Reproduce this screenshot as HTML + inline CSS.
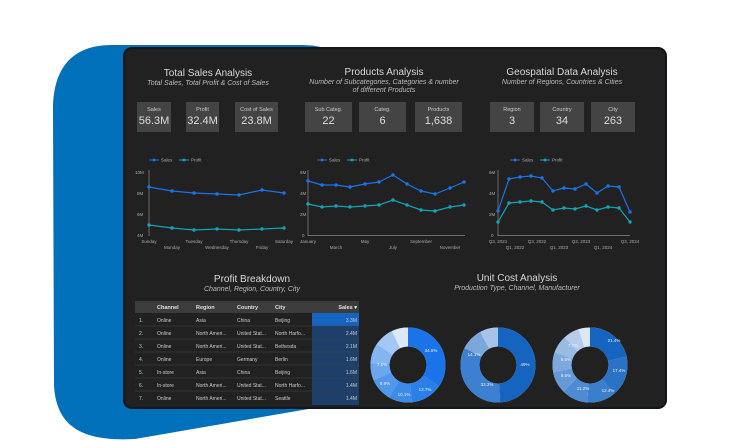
<!DOCTYPE html>
<html><head><meta charset="utf-8"><style>
html,body{margin:0;padding:0;background:#fff;width:750px;height:441px;overflow:hidden}
svg{display:block;font-family:"Liberation Sans",sans-serif}
</style></head><body>
<svg width="750" height="441" viewBox="0 0 750 441" xmlns="http://www.w3.org/2000/svg">
<path d="M112,45 L300,45 C315,45 322,47 330,50 L330,407 L320,407 L135,439 C80,442 56,425 54,385 L53,110 C53,68 72,45 112,45 Z" fill="#0070ba"/>
<rect x="124" y="48" width="542" height="360" rx="8" fill="#212121" stroke="#11151c" stroke-width="2"/>
<g fill="#d8d8d8" text-anchor="middle">
<text x="208" y="76" font-size="10">Total Sales Analysis</text>
<text x="208" y="85" font-size="7" font-style="italic" fill="#bbb">Total Sales, Total Profit &amp; Cost of Sales</text>
<text x="384" y="75" font-size="10">Products Analysis</text>
<text x="384" y="84" font-size="7" font-style="italic" fill="#bbb">Number of Subcategories, Categories &amp; number</text>
<text x="384" y="92" font-size="7" font-style="italic" fill="#bbb">of different Products</text>
<text x="562" y="75" font-size="10">Geospatial Data Analysis</text>
<text x="562" y="84" font-size="7" font-style="italic" fill="#bbb">Number of Regions, Countries &amp; Cities</text>
</g>
<g fill="#444">
<rect x="137" y="102" width="34" height="30"/><rect x="186" y="102" width="33" height="30"/><rect x="235" y="102" width="43" height="30"/>
<rect x="305" y="102" width="47" height="30"/><rect x="359" y="102" width="47" height="30"/><rect x="415" y="102" width="47" height="30"/>
<rect x="490" y="102" width="44" height="30"/><rect x="540" y="102" width="44" height="30"/><rect x="591" y="102" width="44" height="30"/>
</g>
<g text-anchor="middle" fill="#ddd">
<g font-size="5.5" fill="#ccc">
<text x="154" y="111">Sales</text><text x="202.5" y="111">Profit</text><text x="256.5" y="111">Cost of Sales</text>
<text x="328.5" y="111">Sub Categ.</text><text x="382.5" y="111">Categ.</text><text x="438.5" y="111">Products</text>
<text x="512" y="111">Region</text><text x="562" y="111">Country</text><text x="613" y="111">City</text>
</g>
<g font-size="11">
<text x="154" y="124">56.3M</text><text x="202.5" y="124">32.4M</text><text x="256.5" y="124">23.8M</text>
<text x="328.5" y="124">22</text><text x="382.5" y="124">6</text><text x="438.5" y="124">1,638</text>
<text x="512" y="124">3</text><text x="562" y="124">34</text><text x="613" y="124">263</text>
</g></g>
<g font-size="4.5" fill="#aaa">
<g transform="translate(0,0)"><line x1="149" y1="160" x2="159" y2="160" stroke="#1a73e8"/><circle cx="154" cy="160" r="1.5" fill="#1a73e8"/><text x="161" y="161.5">Sales</text><line x1="179" y1="160" x2="189" y2="160" stroke="#12a4b4"/><circle cx="184" cy="160" r="1.5" fill="#12a4b4"/><text x="191" y="161.5">Profit</text></g>
<g transform="translate(168,0)"><line x1="149" y1="160" x2="159" y2="160" stroke="#1a73e8"/><circle cx="154" cy="160" r="1.5" fill="#1a73e8"/><text x="161" y="161.5">Sales</text><line x1="179" y1="160" x2="189" y2="160" stroke="#12a4b4"/><circle cx="184" cy="160" r="1.5" fill="#12a4b4"/><text x="191" y="161.5">Profit</text></g>
<g transform="translate(361,0)"><line x1="149" y1="160" x2="159" y2="160" stroke="#1a73e8"/><circle cx="154" cy="160" r="1.5" fill="#1a73e8"/><text x="161" y="161.5">Sales</text><line x1="179" y1="160" x2="189" y2="160" stroke="#12a4b4"/><circle cx="184" cy="160" r="1.5" fill="#12a4b4"/><text x="191" y="161.5">Profit</text></g>
</g>
<g stroke="#888" stroke-width="0.7"><line x1="149" y1="170" x2="149" y2="236"/><line x1="308" y1="170" x2="308" y2="236"/><line x1="308" y1="235.5" x2="465" y2="235.5"/><line x1="498" y1="170" x2="498" y2="236"/><line x1="498" y1="235.5" x2="630" y2="235.5"/></g>
<g font-size="4.5" fill="#aaa">
<text x="135" y="174">10M</text><text x="137" y="195">8M</text><text x="137" y="216">6M</text><text x="137" y="237">4M</text>
<text x="300" y="174">6M</text><text x="300" y="195">4M</text><text x="300" y="216">2M</text><text x="302" y="237">0</text>
<text x="489" y="174">6M</text><text x="489" y="195">4M</text><text x="489" y="216">2M</text><text x="491" y="237">0</text>
<g text-anchor="middle">
<text x="149" y="243">Sunday</text><text x="172" y="249">Monday</text><text x="194" y="243">Tuesday</text><text x="217" y="249">Wednesday</text><text x="239" y="243">Thursday</text><text x="262" y="249">Friday</text><text x="284" y="243">Saturday</text>
<text x="308" y="243">January</text><text x="336" y="249">March</text><text x="365" y="243">May</text><text x="393" y="249">July</text><text x="421" y="243">September</text><text x="450" y="249">November</text>
<text x="498" y="243">Q3, 2021</text><text x="515" y="249">Q1, 2022</text><text x="537" y="243">Q3, 2022</text><text x="559" y="249">Q1, 2023</text><text x="581" y="243">Q3, 2023</text><text x="603" y="249">Q1, 2024</text><text x="630" y="243">Q3, 2024</text>
</g></g>
<g fill="none" stroke-width="1.2">
<polyline stroke="#1a73e8" points="149,187 172,191 194,193 217,194 239,195 262,190 284,193"/>
<polyline stroke="#12a4b4" points="149,225 172,228 194,230 217,229 239,230 262,229 284,228"/>
<polyline stroke="#1a73e8" points="308,181 322,185 336,185 350,187 365,184 379,182 393,175 407,184 421,191 435,194 450,188 464,182"/>
<polyline stroke="#12a4b4" points="308,204 322,207 336,206 350,207 365,206 379,205 393,200 407,205 421,210 435,211 450,207 464,205"/>
<polyline stroke="#1a73e8" points="498,211 509,179 520,177 531,176 542,178 553,191 564,188 575,189 586,184 597,193 608,186 619,187 630,212"/>
<polyline stroke="#12a4b4" points="498,222 509,203 520,202 531,201 542,202 553,210 564,208 575,209 586,206 597,210 608,207 619,208 630,222"/>
</g>
<g fill="#1a73e8">
<circle cx="149" cy="187" r="1.7"/><circle cx="172" cy="191" r="1.7"/><circle cx="194" cy="193" r="1.7"/><circle cx="217" cy="194" r="1.7"/><circle cx="239" cy="195" r="1.7"/><circle cx="262" cy="190" r="1.7"/><circle cx="284" cy="193" r="1.7"/>
<circle cx="308" cy="181" r="1.7"/><circle cx="322" cy="185" r="1.7"/><circle cx="336" cy="185" r="1.7"/><circle cx="350" cy="187" r="1.7"/><circle cx="365" cy="184" r="1.7"/><circle cx="379" cy="182" r="1.7"/><circle cx="393" cy="175" r="1.7"/><circle cx="407" cy="184" r="1.7"/><circle cx="421" cy="191" r="1.7"/><circle cx="435" cy="194" r="1.7"/><circle cx="450" cy="188" r="1.7"/><circle cx="464" cy="182" r="1.7"/>
<circle cx="498" cy="211" r="1.7"/><circle cx="509" cy="179" r="1.7"/><circle cx="520" cy="177" r="1.7"/><circle cx="531" cy="176" r="1.7"/><circle cx="542" cy="178" r="1.7"/><circle cx="553" cy="191" r="1.7"/><circle cx="564" cy="188" r="1.7"/><circle cx="575" cy="189" r="1.7"/><circle cx="586" cy="184" r="1.7"/><circle cx="597" cy="193" r="1.7"/><circle cx="608" cy="186" r="1.7"/><circle cx="619" cy="187" r="1.7"/><circle cx="630" cy="212" r="1.7"/>
</g>
<g fill="#12a4b4">
<circle cx="149" cy="225" r="1.7"/><circle cx="172" cy="228" r="1.7"/><circle cx="194" cy="230" r="1.7"/><circle cx="217" cy="229" r="1.7"/><circle cx="239" cy="230" r="1.7"/><circle cx="262" cy="229" r="1.7"/><circle cx="284" cy="228" r="1.7"/>
<circle cx="308" cy="204" r="1.7"/><circle cx="322" cy="207" r="1.7"/><circle cx="336" cy="206" r="1.7"/><circle cx="350" cy="207" r="1.7"/><circle cx="365" cy="206" r="1.7"/><circle cx="379" cy="205" r="1.7"/><circle cx="393" cy="200" r="1.7"/><circle cx="407" cy="205" r="1.7"/><circle cx="421" cy="210" r="1.7"/><circle cx="435" cy="211" r="1.7"/><circle cx="450" cy="207" r="1.7"/><circle cx="464" cy="205" r="1.7"/>
<circle cx="498" cy="222" r="1.7"/><circle cx="509" cy="203" r="1.7"/><circle cx="520" cy="202" r="1.7"/><circle cx="531" cy="201" r="1.7"/><circle cx="542" cy="202" r="1.7"/><circle cx="553" cy="210" r="1.7"/><circle cx="564" cy="208" r="1.7"/><circle cx="575" cy="209" r="1.7"/><circle cx="586" cy="206" r="1.7"/><circle cx="597" cy="210" r="1.7"/><circle cx="608" cy="207" r="1.7"/><circle cx="619" cy="208" r="1.7"/><circle cx="630" cy="222" r="1.7"/>
</g>
<g text-anchor="middle" fill="#d8d8d8">
<text x="252" y="282" font-size="10">Profit Breakdown</text>
<text x="252" y="291" font-size="7" font-style="italic" fill="#bbb">Channel, Region, Country, City</text>
<text x="517" y="281" font-size="10">Unit Cost Analysis</text>
<text x="517" y="290" font-size="7" font-style="italic" fill="#bbb">Production Type, Channel, Manufacturer</text>
</g>
<rect x="135" y="301" width="224" height="12" fill="#3c3c3c"/>
<rect x="312" y="313" width="47" height="13" fill="#1565c0"/>
<rect x="312" y="326" width="47" height="79" fill="#1e3f6a"/>
<g stroke="#444" stroke-width="0.6">
<line x1="135" y1="326" x2="359" y2="326"/><line x1="135" y1="339" x2="359" y2="339"/><line x1="135" y1="352" x2="359" y2="352"/><line x1="135" y1="365" x2="359" y2="365"/><line x1="135" y1="378" x2="359" y2="378"/><line x1="135" y1="391" x2="359" y2="391"/>
</g>
<g font-size="5.5" fill="#e0e0e0" font-weight="bold">
<text x="157" y="309">Channel</text><text x="196" y="309">Region</text><text x="237" y="309">Country</text><text x="275" y="309">City</text><text x="357" y="309" text-anchor="end">Sales ▾</text>
</g>
<g font-size="5" fill="#ccc">
<text x="139" y="322">1.</text><text x="157" y="322">Online</text><text x="196" y="322">Asia</text><text x="237" y="322">China</text><text x="275" y="322">Beijing</text><text x="357" y="322" text-anchor="end">3.3M</text>
<text x="139" y="335">2.</text><text x="157" y="335">Online</text><text x="196" y="335">North Ameri...</text><text x="237" y="335">United Stat...</text><text x="275" y="335">North Harfo...</text><text x="357" y="335" text-anchor="end">2.4M</text>
<text x="139" y="348">3.</text><text x="157" y="348">Online</text><text x="196" y="348">North Ameri...</text><text x="237" y="348">United Stat...</text><text x="275" y="348">Bethesda</text><text x="357" y="348" text-anchor="end">2.1M</text>
<text x="139" y="361">4.</text><text x="157" y="361">Online</text><text x="196" y="361">Europe</text><text x="237" y="361">Germany</text><text x="275" y="361">Berlin</text><text x="357" y="361" text-anchor="end">1.6M</text>
<text x="139" y="374">5.</text><text x="157" y="374">In-store</text><text x="196" y="374">Asia</text><text x="237" y="374">China</text><text x="275" y="374">Beijing</text><text x="357" y="374" text-anchor="end">1.6M</text>
<text x="139" y="387">6.</text><text x="157" y="387">In-store</text><text x="196" y="387">North Ameri...</text><text x="237" y="387">United Stat...</text><text x="275" y="387">North Harfo...</text><text x="357" y="387" text-anchor="end">1.4M</text>
<text x="139" y="400">7.</text><text x="157" y="400">Online</text><text x="196" y="400">North Ameri...</text><text x="237" y="400">United Stat...</text><text x="275" y="400">Seattle</text><text x="357" y="400" text-anchor="end">1.4M</text>
</g>
<g fill="none" stroke-width="19">
<g transform="rotate(-90 408 365)">
<circle cx="408" cy="365" r="28" stroke="#c5d9f1"/>
<circle cx="408" cy="365" r="28" stroke="#1a73e8" stroke-dasharray="60.7 200"/>
<circle cx="408" cy="365" r="28" stroke="#2a7fe8" stroke-dasharray="0 60.7 24.1 200"/>
<circle cx="408" cy="365" r="28" stroke="#3d8be9" stroke-dasharray="0 84.8 17.8 200"/>
<circle cx="408" cy="365" r="28" stroke="#5198eb" stroke-dasharray="0 102.6 17.4 200"/>
<circle cx="408" cy="365" r="28" stroke="#6aa7ee" stroke-dasharray="0 120 13.2 200"/>
<circle cx="408" cy="365" r="28" stroke="#83b6f0" stroke-dasharray="0 133.2 15 200"/>
<circle cx="408" cy="365" r="28" stroke="#a3c8f3" stroke-dasharray="0 148.2 15 200"/>
<circle cx="408" cy="365" r="28" stroke="#dce8f7" stroke-dasharray="0 163.2 12.7 200"/>
</g>
<g transform="rotate(-90 498 365)">
<circle cx="498" cy="365" r="28" stroke="#c5d9f1"/>
<circle cx="498" cy="365" r="28" stroke="#1565c0" stroke-dasharray="86.2 200"/>
<circle cx="498" cy="365" r="28" stroke="#3d7fd0" stroke-dasharray="0 86.2 58.6 200"/>
<circle cx="498" cy="365" r="28" stroke="#7aa7dc" stroke-dasharray="0 144.8 17 200"/>
<circle cx="498" cy="365" r="28" stroke="#a6c4e9" stroke-dasharray="0 161.8 14.1 200"/>
</g>
<g transform="rotate(-90 590 365)">
<circle cx="590" cy="365" r="28" stroke="#dce8f7"/>
<circle cx="590" cy="365" r="28" stroke="#1565c0" stroke-dasharray="37.6 200"/>
<circle cx="590" cy="365" r="28" stroke="#2a72c6" stroke-dasharray="0 37.6 30.6 200"/>
<circle cx="590" cy="365" r="28" stroke="#3b7ecc" stroke-dasharray="0 68.2 21.8 200"/>
<circle cx="590" cy="365" r="28" stroke="#4f8bd2" stroke-dasharray="0 90 19.7 200"/>
<circle cx="590" cy="365" r="28" stroke="#6599d8" stroke-dasharray="0 109.7 16.7 200"/>
<circle cx="590" cy="365" r="28" stroke="#7ea9dd" stroke-dasharray="0 126.4 15 200"/>
<circle cx="590" cy="365" r="28" stroke="#98bae3" stroke-dasharray="0 141.4 13.5 200"/>
<circle cx="590" cy="365" r="28" stroke="#b5cdea" stroke-dasharray="0 154.9 12 200"/>
</g>
</g>
<g font-size="4.5" fill="#e8f0ff" text-anchor="middle">
<text x="431" y="352">34.5%</text><text x="425" y="391">13.7%</text><text x="404" y="396">10.1%</text><text x="385" y="385">9.9%</text><text x="382" y="366">7.5%</text>
<text x="525" y="366">49%</text><text x="487" y="386">33.3%</text><text x="474" y="356">14.1%</text>
<text x="614" y="342">21.4%</text><text x="619" y="372">17.4%</text><text x="608" y="392">12.4%</text><text x="583" y="390">11.2%</text><text x="566" y="377">9.5%</text><text x="566" y="361">8.5%</text><text x="573" y="347">7.7%</text>
</g>
</svg>
</body></html>
